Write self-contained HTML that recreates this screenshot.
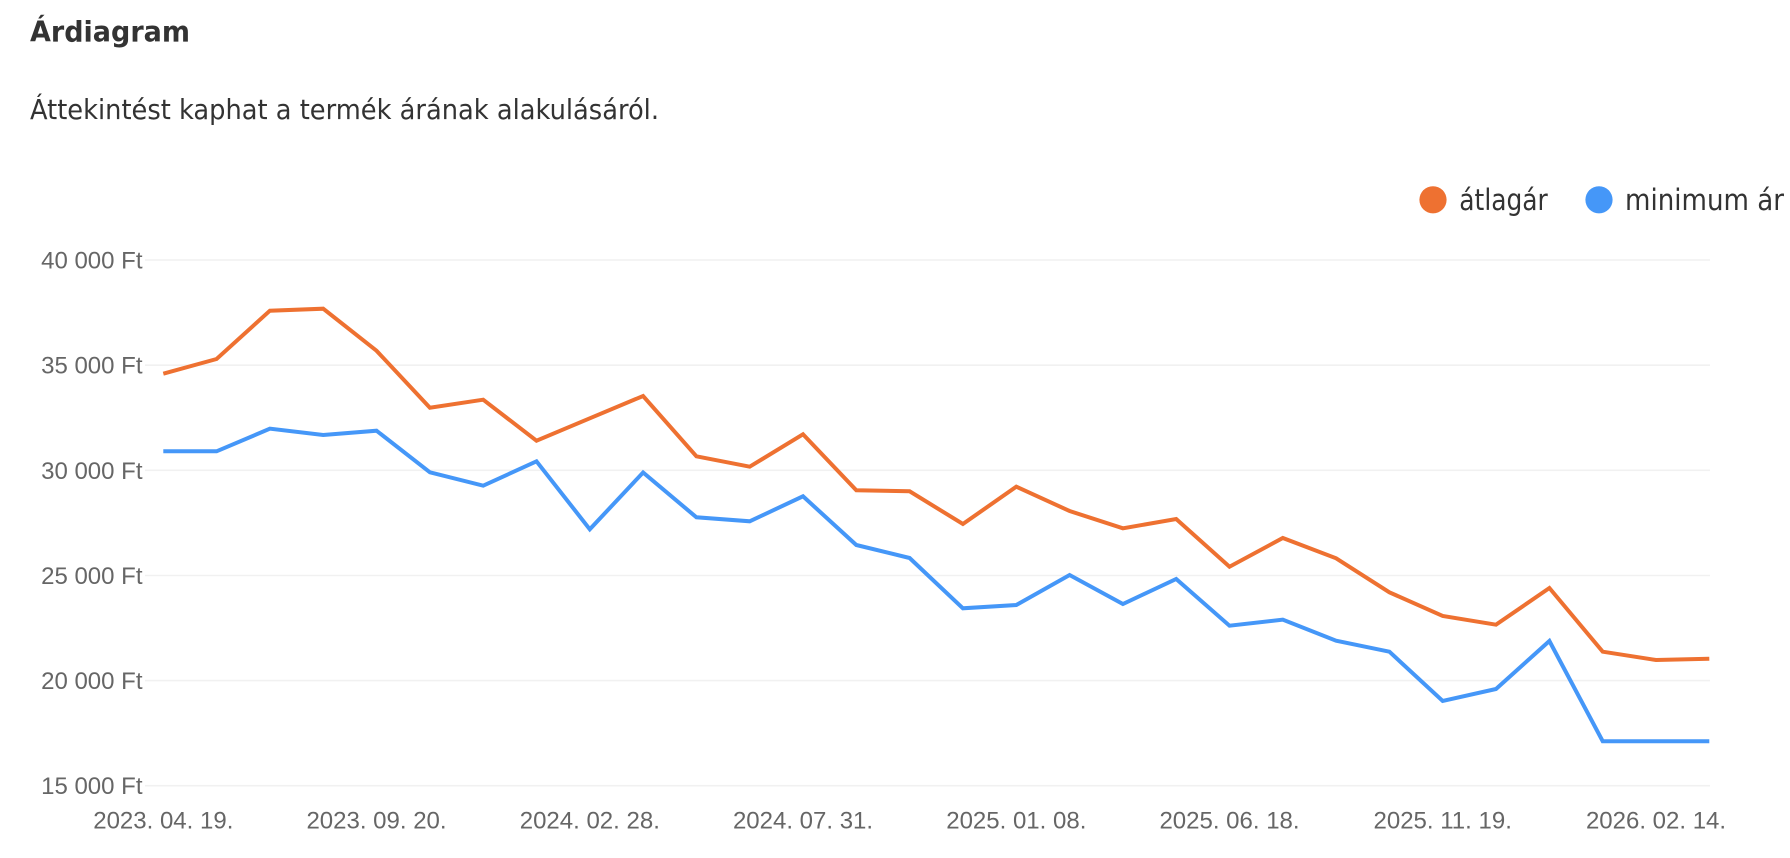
<!DOCTYPE html>
<html>
<head>
<meta charset="utf-8">
<style>
  html, body { margin:0; padding:0; background:#ffffff; }
  body { width:1790px; height:858px; overflow:hidden; }
  svg { display:block; }
  .ax { font-family:"Liberation Sans", Arial, sans-serif; font-size:24px; fill:#666666; }
  .hd { font-family:"DejaVu Sans", "Liberation Sans", sans-serif; fill:#333333; }
</style>
</head>
<body>
<svg width="1790" height="858" viewBox="0 0 1790 858" xmlns="http://www.w3.org/2000/svg">
  <rect x="0" y="0" width="1790" height="858" fill="#ffffff"/>

  <!-- Title & subtitle -->
  <text class="hd" x="30" y="41.7" font-size="28.5" font-weight="bold" textLength="160" lengthAdjust="spacingAndGlyphs">Árdiagram</text>
  <text class="hd" x="30" y="119" font-size="28" textLength="629" lengthAdjust="spacingAndGlyphs">Áttekintést kaphat a termék árának alakulásáról.</text>

  <!-- Legend -->
  <circle cx="1433" cy="199.8" r="13.6" fill="#EE7131"/>
  <text class="hd" x="1459.3" y="210" font-size="29" textLength="88.5" lengthAdjust="spacingAndGlyphs">átlagár</text>
  <circle cx="1599" cy="199.8" r="13.6" fill="#4597F8"/>
  <text class="hd" x="1625" y="210" font-size="29" textLength="159" lengthAdjust="spacingAndGlyphs">minimum ár</text>

  <!-- Gridlines -->
  <g stroke="#f1f1f1" stroke-width="1.6">
    <line x1="145" y1="260" x2="1710" y2="260"/>
    <line x1="145" y1="365.2" x2="1710" y2="365.2"/>
    <line x1="145" y1="470.3" x2="1710" y2="470.3"/>
    <line x1="145" y1="575.5" x2="1710" y2="575.5"/>
    <line x1="145" y1="680.6" x2="1710" y2="680.6"/>
    <line x1="145" y1="785.7" x2="1710" y2="785.7"/>
  </g>

  <!-- Y axis labels -->
  <g class="ax" text-anchor="end">
    <text x="142.5" y="268.5">40 000 Ft</text>
    <text x="142.5" y="373.7">35 000 Ft</text>
    <text x="142.5" y="478.8">30 000 Ft</text>
    <text x="142.5" y="584">25 000 Ft</text>
    <text x="142.5" y="689.1">20 000 Ft</text>
    <text x="142.5" y="794.2">15 000 Ft</text>
  </g>

  <!-- X axis labels -->
  <g class="ax" text-anchor="middle">
    <text x="163.3" y="828.5">2023. 04. 19.</text>
    <text x="376.5" y="828.5">2023. 09. 20.</text>
    <text x="589.8" y="828.5">2024. 02. 28.</text>
    <text x="803" y="828.5">2024. 07. 31.</text>
    <text x="1016.3" y="828.5">2025. 01. 08.</text>
    <text x="1229.5" y="828.5">2025. 06. 18.</text>
    <text x="1442.7" y="828.5">2025. 11. 19.</text>
    <text x="1656" y="828.5">2026. 02. 14.</text>
  </g>

  <!-- átlagár (orange) -->
  <polyline fill="none" stroke="#EE7131" stroke-width="4" stroke-linejoin="miter" stroke-miterlimit="4"
    points="163.3,373.7 216.6,359 269.9,310.7 323.2,308.7 376.5,350.7 429.9,407.7 483.2,399.7 536.5,440.7 589.8,418.3 643.1,396 696.4,456.3 749.7,466.7 803,434.3 856.3,490.3 909.6,491.3 962.9,524 1016.3,486.7 1069.6,511 1122.9,528.3 1176.2,519 1229.5,566.7 1282.8,538 1336.1,558.3 1389.4,592.3 1442.7,616 1496,624.7 1549.4,588 1602.7,651.7 1656,660 1709.3,658.7"/>

  <!-- minimum ár (blue) -->
  <polyline fill="none" stroke="#4597F8" stroke-width="4" stroke-linejoin="miter" stroke-miterlimit="4"
    points="163.3,451.3 216.6,451.3 269.9,428.7 323.2,435 376.5,430.7 429.9,472.3 483.2,485.7 536.5,461.3 589.8,529.3 643.1,472.5 696.4,517.3 749.7,521.3 803,496.3 856.3,545 909.6,558 962.9,608.3 1016.3,605 1069.6,575 1122.9,604 1176.2,579 1229.5,625.7 1282.8,619.7 1336.1,640.7 1389.4,651.7 1442.7,701 1496,689 1549.4,641 1602.7,741.2 1656,741.2 1709.3,741.2"/>
</svg>
</body>
</html>
